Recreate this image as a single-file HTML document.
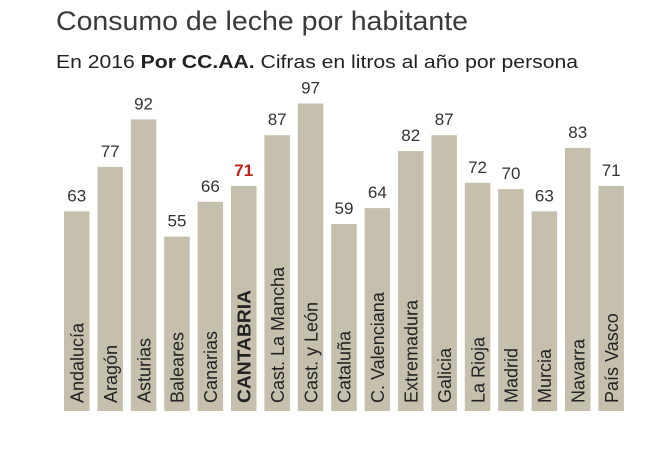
<!DOCTYPE html>
<html><head><meta charset="utf-8"><style>
body{margin:0;background:#fff;}
</style></head><body>
<svg width="669" height="445" xmlns="http://www.w3.org/2000/svg" font-family="'Liberation Sans',sans-serif">
<rect width="669" height="445" fill="#fff"/>
<text x="56" y="30" font-size="27" fill="#3a3a3a" textLength="412" lengthAdjust="spacingAndGlyphs">Consumo de leche por habitante</text>
<text x="56" y="68" font-size="18" fill="#222" textLength="522" lengthAdjust="spacingAndGlyphs">En 2016  <tspan font-weight="bold">Por CC.AA.</tspan> Cifras en litros al año por persona</text>
<g fill="#c5c0ae">
<rect x="64" y="211.3" width="25.5" height="199.7"/>
<rect x="97.4" y="166.9" width="25.5" height="244.1"/>
<rect x="130.8" y="119.4" width="25.5" height="291.6"/>
<rect x="164.2" y="236.6" width="25.5" height="174.4"/>
<rect x="197.6" y="201.8" width="25.5" height="209.2"/>
<rect x="231" y="185.9" width="25.5" height="225.1"/>
<rect x="264.4" y="135.2" width="25.5" height="275.8"/>
<rect x="297.8" y="103.5" width="25.5" height="307.5"/>
<rect x="331.2" y="224" width="25.5" height="187"/>
<rect x="364.6" y="208.1" width="25.5" height="202.9"/>
<rect x="398" y="151.1" width="25.5" height="259.9"/>
<rect x="431.4" y="135.2" width="25.5" height="275.8"/>
<rect x="464.8" y="182.8" width="25.5" height="228.2"/>
<rect x="498.2" y="189.1" width="25.5" height="221.9"/>
<rect x="531.6" y="211.3" width="25.5" height="199.7"/>
<rect x="565" y="147.9" width="25.5" height="263.1"/>
<rect x="598.4" y="185.9" width="25.5" height="225.1"/>
</g>
<g font-size="17" text-anchor="middle" fill="#333">
<text x="76.75" y="201.3">63</text>
<text x="110.15" y="156.9">77</text>
<text x="143.55" y="109.4">92</text>
<text x="176.95" y="226.6">55</text>
<text x="210.35" y="191.8">66</text>
<text x="243.75" y="175.9" fill="#c0221b" font-weight="bold">71</text>
<text x="277.15" y="125.2">87</text>
<text x="310.55" y="93.5">97</text>
<text x="343.95" y="214">59</text>
<text x="377.35" y="198.1">64</text>
<text x="410.75" y="141.1">82</text>
<text x="444.15" y="125.2">87</text>
<text x="477.55" y="172.8">72</text>
<text x="510.95" y="179.1">70</text>
<text x="544.35" y="201.3">63</text>
<text x="577.75" y="137.9">83</text>
<text x="611.15" y="175.9">71</text>
</g>
<g font-size="18" fill="#222">
<text transform="translate(83.5,403) rotate(-90)">Andalucía</text>
<text transform="translate(116.9,403) rotate(-90)">Aragón</text>
<text transform="translate(150.3,403) rotate(-90)">Asturias</text>
<text transform="translate(183.7,403) rotate(-90)">Baleares</text>
<text transform="translate(217.1,403) rotate(-90)">Canarias</text>
<text transform="translate(250.5,403) rotate(-90)" font-weight="bold" textLength="113" lengthAdjust="spacingAndGlyphs">CANTABRIA</text>
<text transform="translate(283.9,403) rotate(-90)">Cast. La Mancha</text>
<text transform="translate(317.3,403) rotate(-90)">Cast. y León</text>
<text transform="translate(350.7,403) rotate(-90)">Cataluña</text>
<text transform="translate(384.1,403) rotate(-90)">C. Valenciana</text>
<text transform="translate(417.5,403) rotate(-90)">Extremadura</text>
<text transform="translate(450.9,403) rotate(-90)">Galicia</text>
<text transform="translate(484.3,403) rotate(-90)">La Rioja</text>
<text transform="translate(517.7,403) rotate(-90)">Madrid</text>
<text transform="translate(551.1,403) rotate(-90)">Murcia</text>
<text transform="translate(584.5,403) rotate(-90)">Navarra</text>
<text transform="translate(617.9,403) rotate(-90)">País Vasco</text>
</g>
</svg>
</body></html>
